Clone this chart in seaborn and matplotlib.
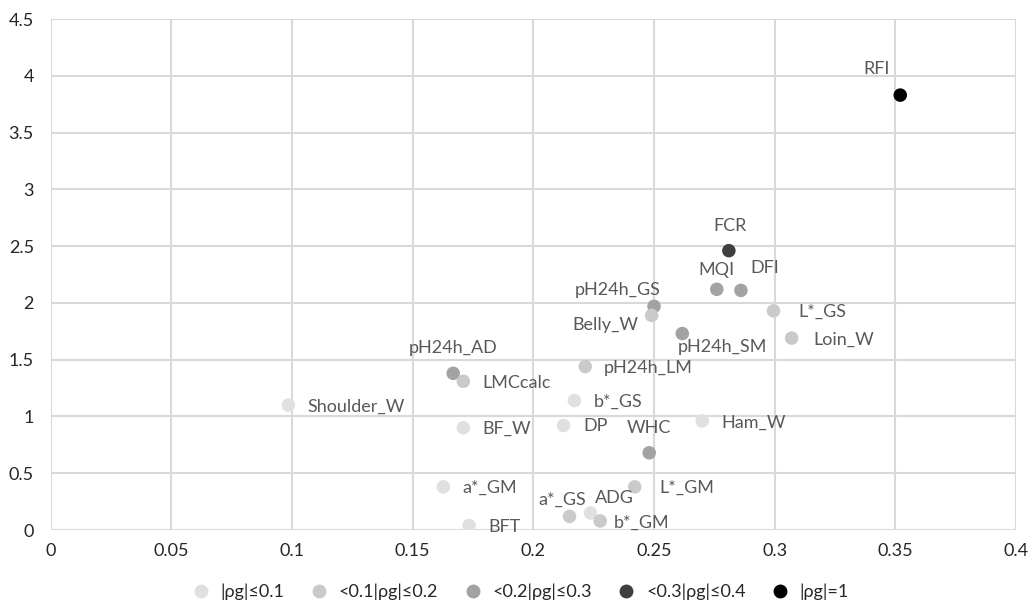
import seaborn as sns
import matplotlib.pyplot as plt
import pandas as pd

# Traits, x / y values and correlation group
traits = ["RFI", "FCR", "MQI", "DFI", "pH24h_GS", "Belly_W", "L*_GS", "Loin_W",
          "pH24h_SM", "pH24h_LM", "pH24h_AD", "LMCcalc", "Shoulder_W", "b*_GS",
          "BF_W", "DP", "WHC", "Ham_W", "a*_GM", "L*_GM", "a*_GS", "ADG",
          "b*_GM", "BFT"]
x_vals = [0.352, 0.281, 0.276, 0.286, 0.250, 0.249, 0.2995, 0.307,
          0.2617, 0.2215, 0.1668, 0.171, 0.0985, 0.217,
          0.171, 0.2125, 0.248, 0.270, 0.1627, 0.242, 0.215, 0.2237,
          0.2277, 0.1734]
y_vals = [3.83, 2.46, 2.12, 2.11, 1.97, 1.89, 1.93, 1.69,
          1.73, 1.44, 1.38, 1.31, 1.10, 1.14,
          0.90, 0.92, 0.68, 0.96, 0.38, 0.38, 0.12, 0.15,
          0.08, 0.04]
groups_of = ["|ρg|=1", "<0.3|ρg|≤0.4", "<0.2|ρg|≤0.3", "<0.2|ρg|≤0.3",
             "<0.2|ρg|≤0.3", "<0.1|ρg|≤0.2", "<0.1|ρg|≤0.2", "<0.1|ρg|≤0.2",
             "<0.2|ρg|≤0.3", "<0.1|ρg|≤0.2", "<0.2|ρg|≤0.3", "<0.1|ρg|≤0.2",
             "|ρg|≤0.1", "|ρg|≤0.1", "|ρg|≤0.1", "|ρg|≤0.1",
             "<0.2|ρg|≤0.3", "|ρg|≤0.1", "|ρg|≤0.1", "<0.1|ρg|≤0.2",
             "<0.1|ρg|≤0.2", "|ρg|≤0.1", "<0.1|ρg|≤0.2", "|ρg|≤0.1"]

group_order = ["|ρg|≤0.1", "<0.1|ρg|≤0.2", "<0.2|ρg|≤0.3", "<0.3|ρg|≤0.4", "|ρg|=1"]
group_colors = ["#e0e0e0", "#cacaca", "#a3a3a3", "#3f3f3f", "#000000"]

# label offset (points) and alignment per trait
label_pos = {
    "RFI": (-17, 19, "center"), "FCR": (1, 18, "center"), "MQI": (0, 14, "center"),
    "DFI": (17, 16, "center"), "pH24h_GS": (-26, 12, "center"), "Belly_W": (-33, -7, "center"),
    "L*_GS": (18, -1, "left"), "Loin_W": (16, -1, "left"), "pH24h_SM": (-3, -10, "left"),
    "pH24h_LM": (13, -1, "left"), "pH24h_AD": (0, 18, "center"), "LMCcalc": (14, -1, "left"),
    "Shoulder_W": (14, -1, "left"), "b*_GS": (14, -1, "left"), "BF_W": (14, -1, "left"),
    "DP": (14, 0, "left"), "WHC": (0, 18, "center"), "Ham_W": (14, -1, "left"),
    "a*_GM": (14, -1, "left"), "L*_GM": (18, -1, "left"), "a*_GS": (-5, 12, "center"),
    "ADG": (17, 11, "center"), "b*_GM": (10, -1, "left"), "BFT": (14, -1, "left"),
}

df = pd.DataFrame({"trait": traits, "x": x_vals, "y": y_vals, "grupo": groups_of})

sns.set_style("white")
plt.rcParams["font.family"] = ["Lato", "DejaVu Sans"]

fig = plt.figure(figsize=(10.32, 6.04), dpi=100)
ax = fig.add_axes([0.049, 0.1225, 0.9356, 0.846])

sns.scatterplot(data=df, x="x", y="y", hue="grupo", hue_order=group_order,
                palette=dict(zip(group_order, group_colors)), s=95,
                edgecolor="none", ax=ax, zorder=3, legend=False)

for t, xv, yv in zip(traits, x_vals, y_vals):
    dx, dy, ha = label_pos[t]
    ax.annotate(t, (xv, yv), xytext=(dx, dy), textcoords="offset points",
                ha=ha, va="center", fontsize=13, color="#595959", zorder=4)

ax.set_xlim(0, 0.4)
ax.set_ylim(0, 4.5)
ax.set_xticks([0, 0.05, 0.1, 0.15, 0.2, 0.25, 0.3, 0.35, 0.4])
ax.set_xticklabels(["0", "0.05", "0.1", "0.15", "0.2", "0.25", "0.3", "0.35", "0.4"])
ax.set_yticks([0, 0.5, 1, 1.5, 2, 2.5, 3, 3.5, 4, 4.5])
ax.set_yticklabels(["0", "0.5", "1", "1.5", "2", "2.5", "3", "3.5", "4", "4.5"])
ax.grid(True, color="#d9d9d9", linewidth=1.5)
ax.set_axisbelow(True)
for sp in ax.spines.values():
    sp.set_visible(False)
ax.tick_params(axis="both", length=0, labelsize=13, labelcolor="#262626")
ax.tick_params(axis="x", pad=9)
ax.tick_params(axis="y", pad=12)
ax.set_xlabel("")
ax.set_ylabel("")

handles = [plt.Line2D([], [], marker="o", linestyle="", markersize=10,
                      markerfacecolor=c, markeredgecolor="none") for c in group_colors]
fig.legend(handles, group_order, loc="center", bbox_to_anchor=(0.5, 0.02), ncol=5,
           frameon=False, fontsize=13, handletextpad=0.1, columnspacing=0.9,
           labelcolor="#262626")

fig.savefig("out.png", dpi=100)
